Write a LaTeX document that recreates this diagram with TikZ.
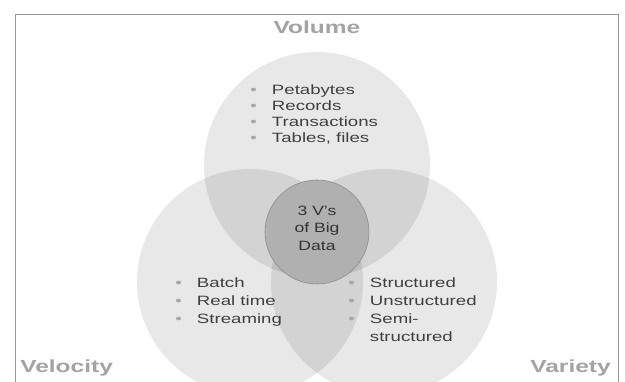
\documentclass[tikz,border=0pt]{standalone}
\usepackage{fontspec}
\setmainfont{Liberation Sans}
\usetikzlibrary{positioning}
\definecolor{framegray}{gray}{0.6}
\definecolor{labelgray}{gray}{0.64}
\definecolor{listgray}{gray}{0.25}
\definecolor{bulletgray}{gray}{0.65}
\definecolor{coregray}{gray}{0.69}
\newcommand{\vitem}[1]{{\color{bulletgray}\textbullet}\hspace{11pt}#1}

\begin{document}
\begin{tikzpicture}[x=1pt, y=-1pt,
	vset/.style={circle, fill=black, fill opacity=0.09, minimum size=226pt, inner sep=0pt},
	vlabel/.style={font=\bfseries\fontsize{17.5}{17.5}\selectfont, text=labelgray, xscale=1.4, inner sep=0pt},
	vlist/.style={font=\fontsize{13.5}{16}\selectfont, text=listgray, align=left, anchor=north west, xscale=1.38, inner sep=0pt}]
			%%%%% START %%%%%
			
			\clip (0, 0) rectangle (625, 382);
			\fill[white] (0, 0) rectangle (625, 382);
			
			\draw[framegray, line width=0.8pt] (15, 382) -- (15, 14) -- (618, 14) -- (618, 382);
			
			\node[vset] (cvol) at (317, 165) {};
			\node[vset] (cvel) at (250, 282) {};
			\node[vset] (cvar) at (384, 282) {};
			\node[circle, fill=coregray, draw=black!45, line width=0.6pt, minimum size=104pt, inner sep=0pt] (core) at (317, 232) {};
			
			\node[vlabel] (volume) at (317, 27) {Volume};
			\node[vlabel, anchor=west] (velocity) at (20, 368) {Velocity};
			\node[vlabel, anchor=east] (variety) at (611, 368) {Variety};
			
			\node[font=\fontsize{13.5}{17.5}\selectfont, text=black!80, align=center, xscale=1.3] (coretext) at (317, 228) {3 V's\\of Big\\Data};
			
			\node[vlist] (vollist) at (250, 85) {\vitem{Petabytes}\\\vitem{Records}\\\vitem{Transactions}\\\vitem{Tables, files}};
			\node[vlist, font=\fontsize{13.5}{18}\selectfont] (vellist) at (175, 278) {\vitem{Batch}\\\vitem{Real time}\\\vitem{Streaming}};
			\node[vlist, font=\fontsize{13.5}{18}\selectfont] (varlist) at (348, 278) {\vitem{Structured}\\\vitem{Unstructured}\\\vitem{Semi-}\\\phantom{\vitem{}}structured};
			
			%%%%% END %%%%%
\end{tikzpicture}
\end{document}
